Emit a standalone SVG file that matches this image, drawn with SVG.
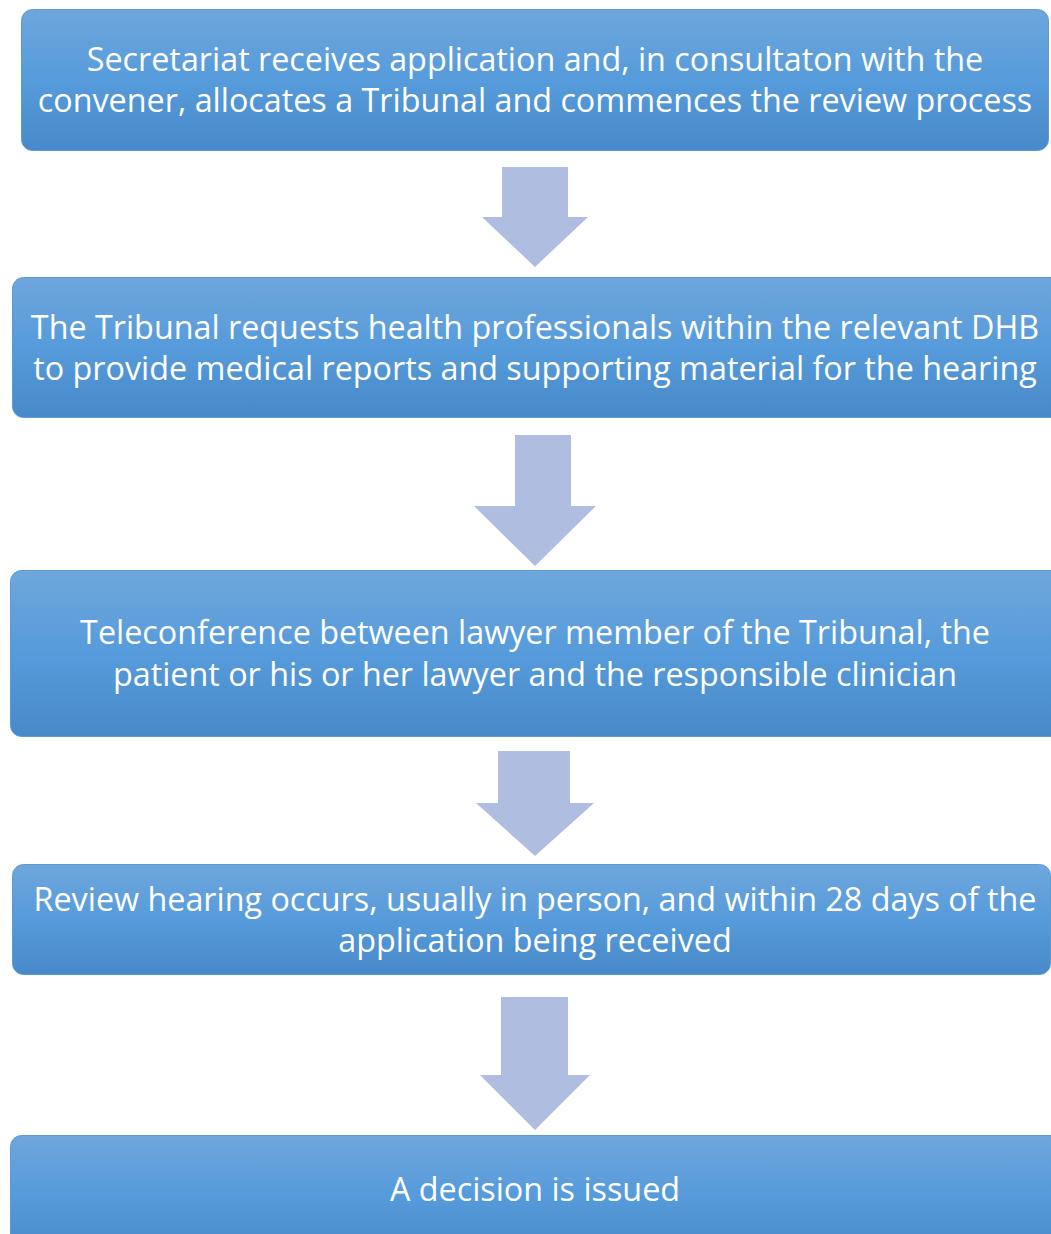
<svg xmlns="http://www.w3.org/2000/svg" width="1051" height="1234" viewBox="0 0 1051 1234">
<defs>
<linearGradient id="g" x1="0" y1="0" x2="0" y2="1">
<stop offset="0" stop-color="#6fa6dc"/>
<stop offset="0.5" stop-color="#569bdb"/>
<stop offset="1" stop-color="#4889c9"/>
</linearGradient>
</defs>
<style>
.box{fill:url(#g);stroke:#5b9bd5;stroke-width:1}
.t{font-family:"Open Sans","DejaVu Sans",sans-serif;font-size:32.3px;fill:#ffffff;text-anchor:middle}
.arr{fill:#afbde0}
</style>
<rect width="1051" height="1234" fill="#ffffff"/>
<g id="connectors">
<polygon class="arr" points="502,167 568,167 568,217 588,217 535,267 482,217 502,217"/>
<polygon class="arr" points="515,435 571,435 571,506 596,506 535,566 474,506 515,506"/>
<polygon class="arr" points="498,751 570,751 570,803 594,803 535,856 476,803 498,803"/>
<polygon class="arr" points="501,997 568,997 568,1075 590,1075 535,1130 480,1075 501,1075"/>
</g>
<g id="n1">
<rect class="box" x="21.5" y="9.5" width="1027" height="141" rx="11"/>
<text class="t" x="535" y="71">Secretariat receives application and, in consultaton with the</text>
<text class="t" x="535" y="112">convener, allocates a Tribunal and commences the review process</text>
</g>
<g id="n2">
<rect class="box" x="12.5" y="277.5" width="1050" height="140" rx="11"/>
<text class="t" x="535" y="339">The Tribunal requests health professionals within the relevant DHB</text>
<text class="t" x="535" y="380">to provide medical reports and supporting material for the hearing</text>
</g>
<g id="n3">
<rect class="box" x="10.5" y="570.5" width="1052" height="166" rx="11"/>
<text class="t" x="535" y="644">Teleconference between lawyer member of the Tribunal, the</text>
<text class="t" x="535" y="686">patient or his or her lawyer and the responsible clinician</text>
</g>
<g id="n4">
<rect class="box" x="12.5" y="864.5" width="1038" height="110" rx="11"/>
<text class="t" x="535" y="911">Review hearing occurs, usually in person, and within 28 days of the</text>
<text class="t" x="535" y="952">application being received</text>
</g>
<g id="n5">
<rect class="box" x="10.5" y="1135.5" width="1052" height="120" rx="11"/>
<text class="t" x="535" y="1201">A decision is issued</text>
</g>
</svg>
